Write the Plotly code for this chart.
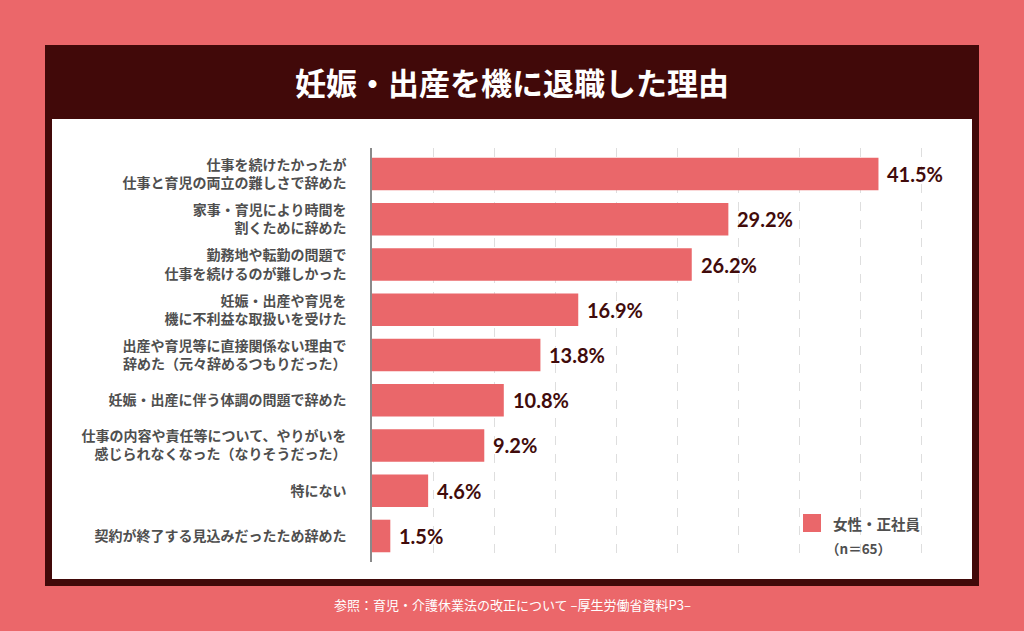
import plotly.graph_objects as go

categories = [
    "仕事を続けたかったが<br>仕事と育児の両立の難しさで辞めた",
    "家事・育児により時間を<br>割くために辞めた",
    "勤務地や転勤の問題で<br>仕事を続けるのが難しかった",
    "妊娠・出産や育児を<br>機に不利益な取扱いを受けた",
    "出産や育児等に直接関係ない理由で<br>辞めた（元々辞めるつもりだった）",
    "妊娠・出産に伴う体調の問題で辞めた",
    "仕事の内容や責任等について、やりがいを<br>感じられなくなった（なりそうだった）",
    "特にない",
    "契約が終了する見込みだったため辞めた",
]
values = [41.5, 29.2, 26.2, 16.9, 13.8, 10.8, 9.2, 4.6, 1.5]
series_name = "女性・正社員"
sample_note = "（n＝65）"
title_text = "妊娠・出産を機に退職した理由"
source_text = "参照：育児・介護休業法の改正について –厚生労働省資料P3–"

W, H = 1024, 631
L, R, T, B = 372, 54, 148, 69
PW, PH = W - L - R, H - T - B

def px(x):
    return (x - L) / PW

def py(y):
    return 1 - (y - T) / PH

SALMON = "#EB676A"
DARK = "#410909"
BAR = "#EA676A"
LABEL = "#4f4f4f"
VALUE = "#410b0b"
JP = "Noto Sans CJK JP"

fig = go.Figure()
fig.add_trace(go.Bar(
    y=categories, x=values, orientation="h",
    marker=dict(color=BAR, line=dict(width=0)),
    name=series_name, showlegend=False,
))

annotations = []
for c, v in zip(categories, values):
    annotations.append(dict(
        x=v, y=c, xref="x", yref="y", text=f"{v:.1f}%", showarrow=False,
        xanchor="left", yanchor="middle", xshift=7,
        font=dict(family="Lato", size=20, color=VALUE, weight="bold"),
    ))

# title
annotations.append(dict(
    x=px(512), y=py(82), xref="paper", yref="paper", text=title_text,
    showarrow=False, xanchor="center", yanchor="middle",
    font=dict(family=JP, size=31, color="white", weight="bold"),
))
# source
annotations.append(dict(
    x=px(512), y=py(604), xref="paper", yref="paper", text=source_text,
    showarrow=False, xanchor="center", yanchor="middle",
    font=dict(family=JP, size=13, color="white"),
))
# legend
annotations.append(dict(
    x=px(831), y=py(523), xref="paper", yref="paper", text=series_name,
    showarrow=False, xanchor="left", yanchor="middle",
    font=dict(family=JP, size=14.5, color=LABEL, weight="bold"),
))
annotations.append(dict(
    x=px(824), y=py(548), xref="paper", yref="paper", text=sample_note,
    showarrow=False, xanchor="left", yanchor="middle",
    font=dict(family=JP, size=13.5, color=LABEL, weight="bold"),
))

shapes = [
    dict(type="rect", xref="paper", yref="paper", layer="below",
         x0=px(45), x1=px(979), y0=py(45), y1=py(586),
         fillcolor=DARK, line=dict(width=0)),
    dict(type="rect", xref="paper", yref="paper", layer="below",
         x0=px(52), x1=px(972), y0=py(119), y1=py(579),
         fillcolor="white", line=dict(width=0)),
    dict(type="rect", xref="paper", yref="paper", layer="above",
         x0=px(803), x1=px(821), y0=py(514), y1=py(532),
         fillcolor=BAR, line=dict(width=0)),
]

fig.update_layout(
    width=W, height=H,
    margin=dict(l=L, r=R, t=T, b=B, pad=0),
    paper_bgcolor=SALMON, plot_bgcolor="rgba(0,0,0,0)",
    bargap=0.28,
    showlegend=False,
    annotations=annotations, shapes=shapes,
    font=dict(family=JP, color=LABEL),
    xaxis=dict(range=[0, 49], dtick=5, tick0=0, showticklabels=False,
               showgrid=True, gridcolor="#dedede", griddash="dash", gridwidth=1,
               zeroline=False, showline=False, fixedrange=True),
    yaxis=dict(range=[8.575, -0.575], showgrid=False, zeroline=False,
               showline=True, linecolor="#8a8a8a", linewidth=1.5,
               ticks="", ticklabelstandoff=21,
               tickfont=dict(family=JP, size=14, color=LABEL, weight="bold"),
               fixedrange=True),
)

fig.write_html(
    "out.html",
    config={"displayModeBar": False},
    post_script="document.body.style.margin='0';document.body.style.background='" + SALMON + "';",
)
